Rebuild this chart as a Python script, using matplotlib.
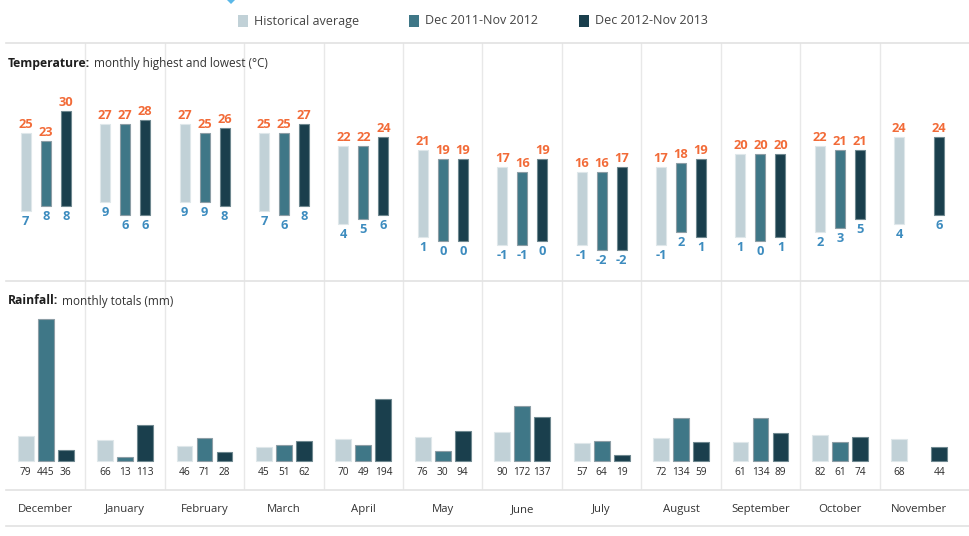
import matplotlib
matplotlib.use("Agg")
import matplotlib.pyplot as plt
from matplotlib.lines import Line2D
from matplotlib.patches import Rectangle, Polygon
import numpy as np

plt.rcParams['font.family'] = ['Open Sans', 'DejaVu Sans']

months = ["December", "January", "February", "March", "April", "May",
          "June", "July", "August", "September", "October", "November"]
series_names = ["Historical average", "Dec 2011-Nov 2012", "Dec 2012-Nov 2013"]

# Temperature highs / lows (°C)
high_hist = [25, 27, 27, 25, 22, 21, 17, 16, 17, 20, 22, 24]
low_hist = [7, 9, 9, 7, 4, 1, -1, -1, -1, 1, 2, 4]
high_2012 = [23, 27, 25, 25, 22, 19, 16, 16, 18, 20, 21, None]
low_2012 = [8, 6, 9, 6, 5, 0, -1, -2, 2, 0, 3, None]
high_2013 = [30, 28, 26, 27, 24, 19, 19, 17, 19, 20, 21, 24]
low_2013 = [8, 6, 8, 8, 6, 0, 0, -2, 1, 1, 5, 6]

# Rainfall totals (mm)
rain_hist = [79, 66, 46, 45, 70, 76, 90, 57, 72, 61, 82, 68]
rain_2012 = [445, 13, 71, 51, 49, 30, 172, 64, 134, 134, 61, None]
rain_2013 = [36, 113, 28, 62, 194, 94, 137, 19, 59, 89, 74, 44]

colors = ["#c1d1d7", "#3f7787", "#1a3f4d"]
edges = ["#dfe7ea", "#8d9ea6", "#6f8890"]
orange = "#f26b38"
blue = "#3d8cbf"
grid = "#e8e8e8"
txt = "#333333"

W, H = 969, 536
fig = plt.figure(figsize=(W / 100, H / 100), dpi=100)


def fx(px):
    return px / W


def fy(py):
    return 1 - py / H


x_left, x_right = 6, 959
offsets = [-0.252, 0.0, 0.252]
xs = np.arange(len(months))

# ---- Temperature axes ----
ax_t = fig.add_axes([fx(x_left), fy(281), fx(x_right - x_left), fy(43) - fy(281)])
ax_t.set_xlim(-0.5, 11.5)
ax_t.set_ylim(-9.24, 45.7)
ax_t.axis("off")

temp_sets = [(high_hist, low_hist), (high_2012, low_2012), (high_2013, low_2013)]
for k, (hi, lo) in enumerate(temp_sets):
    for i in range(len(months)):
        if hi[i] is None:
            continue
        x = xs[i] + offsets[k]
        ax_t.bar(x, hi[i] - lo[i], bottom=lo[i], width=0.126, color=colors[k],
                 edgecolor=edges[k], linewidth=0.8, zorder=3)
        ax_t.annotate(str(hi[i]), xy=(x, hi[i]), xytext=(0, 2), textcoords="offset pixels",
                      ha="center", va="bottom", color=orange, fontsize=9.3,
                      fontweight="bold")
        ax_t.annotate(str(lo[i]), xy=(x, lo[i]), xytext=(0, -4), textcoords="offset pixels",
                      ha="center", va="top", color=blue, fontsize=9.3,
                      fontweight="bold")
for b in np.arange(0.5, 11, 1):
    ax_t.axvline(b, color=grid, lw=1, zorder=0)

# ---- Rainfall axes ----
ax_r = fig.add_axes([fx(x_left), fy(490), fx(x_right - x_left), fy(281) - fy(490)])
ax_r.set_xlim(-0.5, 11.5)
ax_r.set_ylim(-90.9, 564)
ax_r.axis("off")

rain_sets = [rain_hist, rain_2012, rain_2013]
for k, vals in enumerate(rain_sets):
    for i in range(len(months)):
        if vals[i] is None:
            continue
        x = xs[i] + offsets[k]
        ax_r.bar(x, vals[i], width=0.2, color=colors[k], edgecolor=edges[k],
                 linewidth=0.8, zorder=3)
        ax_r.annotate(str(vals[i]), xy=(x, 0), xytext=(0, -12), textcoords="offset pixels",
                      ha="center", va="center", color="#2a2a2a", fontsize=7.3)
for b in np.arange(0.5, 11, 1):
    ax_r.axvline(b, color=grid, lw=1, zorder=0)

# ---- Month label row ----
ax_m = fig.add_axes([fx(x_left), fy(526), fx(x_right - x_left), fy(490) - fy(526)])
ax_m.set_xlim(-0.5, 11.5)
ax_m.set_ylim(0, 1)
ax_m.axis("off")
for i, m in enumerate(months):
    ax_m.text(xs[i], 0.45, m, ha="center", va="center", color=txt, fontsize=8.2)

# ---- horizontal rules ----
for py in [43, 281, 490, 526]:
    fig.add_artist(Line2D([fx(6), 1.0], [fy(py), fy(py)], color="#e2e2e2", lw=1.2,
                          transform=fig.transFigure))

# ---- panel titles ----
t1 = fig.text(fx(8), fy(63), "Temperature:", fontsize=8.7, fontweight="bold",
              color="#1e1e1e", va="center", ha="left")
fig.texts.append(None) if False else None
ax_t.annotate("monthly highest and lowest (°C)", xy=(1, 0.5), xycoords=t1,
              xytext=(4, 0), textcoords="offset pixels", va="center", ha="left",
              fontsize=8.5, color=txt)
t2 = fig.text(fx(8), fy(301), "Rainfall:", fontsize=8.7, fontweight="bold",
              color="#1e1e1e", va="center", ha="left")
ax_r.annotate("monthly totals (mm)", xy=(1, 0.5), xycoords=t2,
              xytext=(4, 0), textcoords="offset pixels", va="center", ha="left",
              fontsize=8.5, color=txt)

# ---- legend (drawn manually to match fixed-width items) ----
leg_x = [238, 409, 579]
for k, name in enumerate(series_names):
    fig.add_artist(Rectangle((fx(leg_x[k]), fy(27)), fx(10), fy(15) - fy(27),
                             facecolor=colors[k], edgecolor="none",
                             transform=fig.transFigure))
    fig.text(fx(leg_x[k] + 16), fy(21), name, fontsize=9, color="#444444",
             va="center", ha="left")

# small dropdown marker at top
fig.add_artist(Polygon([[fx(227), 1.0], [fx(235), 1.0], [fx(231), fy(4)]],
                       closed=True, facecolor="#5bb8e8", edgecolor="none",
                       transform=fig.transFigure))

fig.savefig("out.png", dpi=100)
